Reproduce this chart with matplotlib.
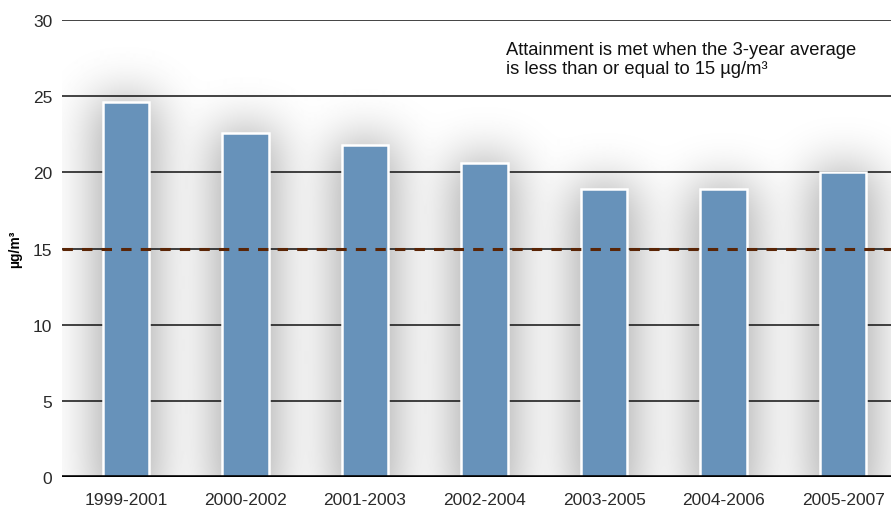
import numpy as np
import matplotlib
matplotlib.use("Agg")
import matplotlib.pyplot as plt

periods = ["1999-2001", "2000-2002", "2001-2003", "2002-2004",
           "2003-2005", "2004-2006", "2005-2007"]
pm25 = [24.6, 22.6, 21.8, 20.6, 18.9, 18.9, 20.0]
standard = 15
yticks = [0, 5, 10, 15, 20, 25, 30]

BAR = "#6792ba"
DASH = "#5a2506"

plt.rcParams.update({"font.family": ["Liberation Sans", "DejaVu Sans"], "font.size": 10})
fig = plt.figure(figsize=(8.91, 5.10), dpi=100)
ax = fig.add_axes([62 / 891, 1 - 478 / 510, 1 - 62 / 891, (478 - 21) / 510])

x = np.arange(len(periods))
width = 0.39
xmin, xmax = -0.535, 6.40
ax.set_xlim(xmin, xmax)

# soft grey glow behind the bars
gx = np.linspace(xmin, xmax, 830)
gy = np.linspace(-1.5, 30, 480)
X, Y = np.meshgrid(gx, gy)
mask = np.zeros_like(X)
for xi, v in zip(x, pm25):
    mask[(np.abs(X - xi) <= width / 2 + 0.03) & (Y <= v)] = 1.0

def kern(sig):
    r = int(sig * 3)
    t = np.arange(-r, r + 1)
    k = np.exp(-0.5 * (t / sig) ** 2)
    return k / k.sum()

kx, ky = kern(22), kern(22)
blur = np.apply_along_axis(lambda r: np.convolve(r, kx, mode="same"), 1, mask)
blur = np.apply_along_axis(lambda c: np.convolve(c, ky, mode="same"), 0, blur)
shade = 1 - 0.34 * np.clip(blur, 0, 1) ** 0.8
ax.imshow(shade, extent=(xmin, xmax, -1.5, 30), origin="lower", aspect="auto",
          cmap="gray", vmin=0, vmax=1, zorder=0, interpolation="bilinear")
ax.set_ylim(0, 30)

for t in yticks[1:]:
    ax.axhline(t, color="#111111", lw=1.1, zorder=1)
ax.axhline(0, color="black", lw=2.6, zorder=4)

ax.bar(x, pm25, width, color=BAR, edgecolor="white", linewidth=1.8, zorder=2)
ax.axhline(standard, color=DASH, lw=2.2, dashes=(3.4, 3.0), zorder=3)

ax.set_yticks(yticks)
ax.set_xticks(x, periods)
ax.tick_params(length=0, labelsize=12.5, colors="#2a2a2a")
ax.tick_params(axis="y", pad=7)
ax.tick_params(axis="x", pad=11)
for s in ax.spines.values():
    s.set_visible(False)
ax.set_ylabel("µg/m³", fontsize=10, fontweight="bold", labelpad=8)

ax.text(3.18, 27.45, "Attainment is met when the 3-year average\nis less than or equal to 15 µg/m³",
        fontsize=13.2, va="center", ha="left", linespacing=1.15, color="#111111")

fig.savefig("out.png", dpi=100, facecolor="white")
